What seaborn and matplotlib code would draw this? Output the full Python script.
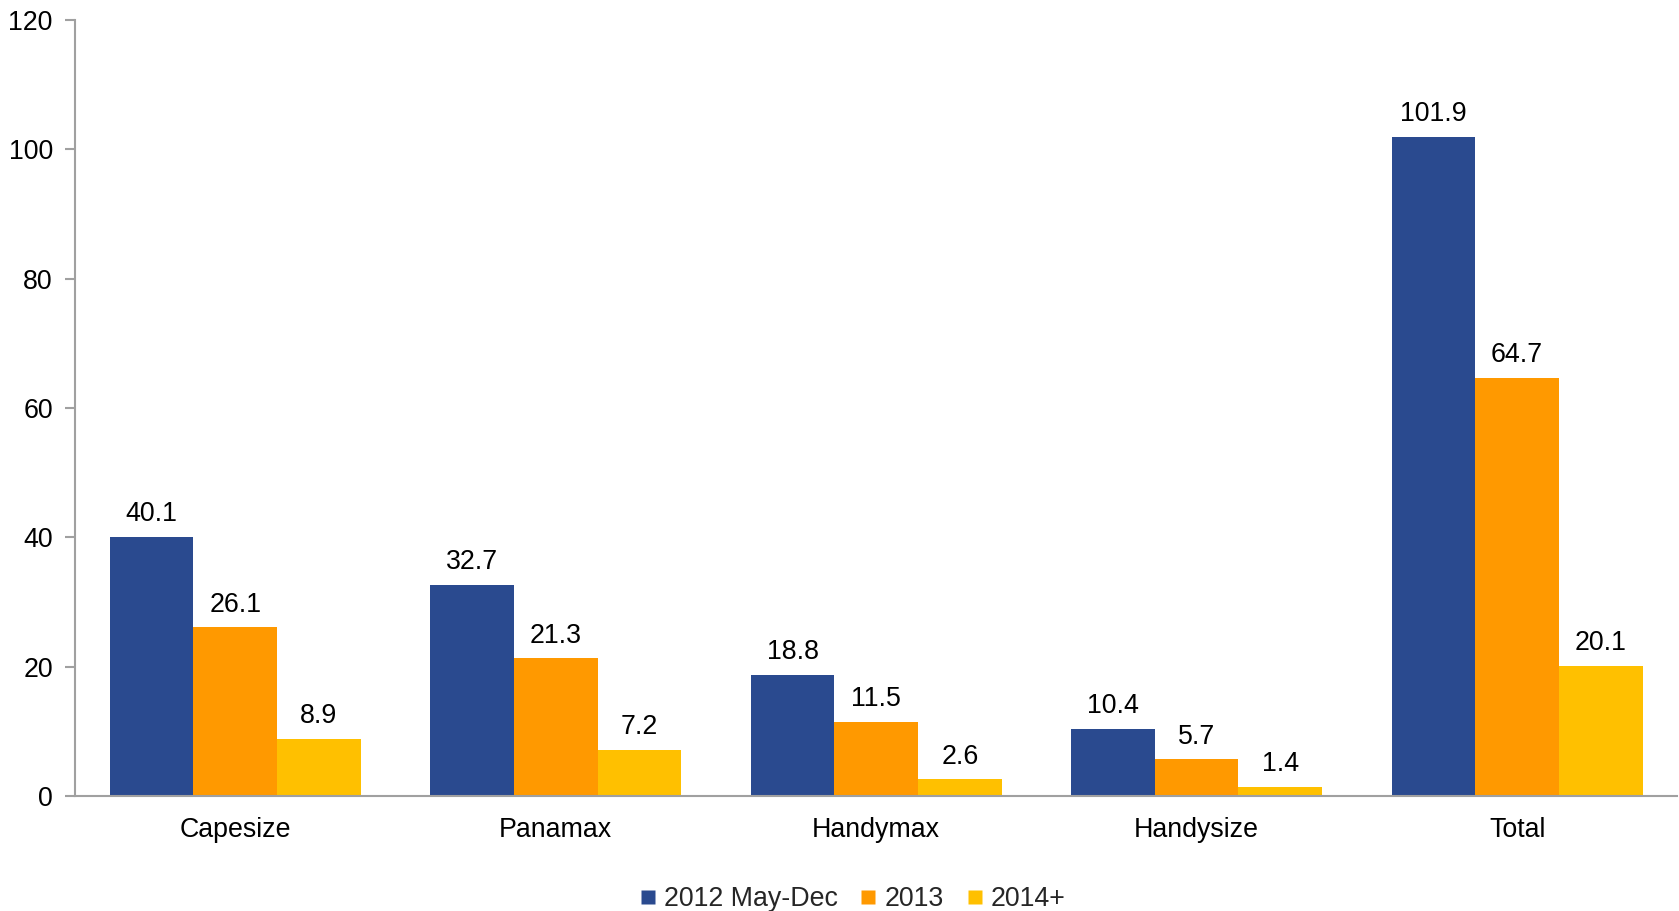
import matplotlib
matplotlib.use("Agg")
import matplotlib.pyplot as plt
import seaborn as sns
import pandas as pd

categories = ["Capesize", "Panamax", "Handymax", "Handysize", "Total"]
series_names = ["2012 May-Dec", "2013", "2014+"]
values_2012 = [40.1, 32.7, 18.8, 10.4, 101.9]
values_2013 = [26.1, 21.3, 11.5, 5.7, 64.7]
values_2014 = [8.9, 7.2, 2.6, 1.4, 20.1]
y_ticks = [0, 20, 40, 60, 80, 100, 120]

colors = ["#2A4A8F", "#FF9900", "#FFC000"]

rows = []
for name, vals in zip(series_names, [values_2012, values_2013, values_2014]):
    for cat, v in zip(categories, vals):
        rows.append({"category": cat, "series": name, "value": v})
df = pd.DataFrame(rows)

sns.set_theme(style="white")
plt.rcParams["font.family"] = ["Liberation Sans", "DejaVu Sans"]

FS = 19.3

fig = plt.figure(figsize=(16.79, 9.11), dpi=100)
ax = fig.add_axes([0.0447, 0.126, 0.9543, 0.852])

sns.barplot(data=df, x="category", y="value", hue="series", order=categories,
            hue_order=series_names, palette=colors, width=0.783, gap=0,
            saturation=1, errorbar=None, ax=ax, edgecolor="none", linewidth=0)

for cont in ax.containers:
    ax.bar_label(cont, labels=[f"{b.get_height():.1f}" for b in cont],
                 padding=7, fontsize=FS, color="#000000")

ax.set_xlim(-0.5, 4.5)
ax.set_ylim(0, 120)
ax.set_yticks(y_ticks)
ax.set_yticklabels([str(t) for t in y_ticks])
ax.set_xlabel("")
ax.set_ylabel("")

for side in ["top", "right"]:
    ax.spines[side].set_visible(False)
for side in ["left", "bottom"]:
    ax.spines[side].set_color("#A0A0A0")
    ax.spines[side].set_linewidth(1.5)

ax.tick_params(axis="y", which="both", left=True, length=7, width=1.5,
               color="#A0A0A0", labelsize=FS, pad=9, labelcolor="#000000")
ax.tick_params(axis="x", bottom=False, labelsize=FS, pad=9, labelcolor="#000000")

ax.legend_.remove()
handles = [plt.Line2D([], [], marker="s", linestyle="none", markersize=10.5,
                      markerfacecolor=c, markeredgecolor="none") for c in colors]
fig.legend(handles, series_names, loc="center", bbox_to_anchor=(0.507, 0.013),
           ncol=3, frameon=False, fontsize=FS, handletextpad=0.2,
           columnspacing=0.75, handlelength=0.8)

fig.savefig("out.png", dpi=100)
